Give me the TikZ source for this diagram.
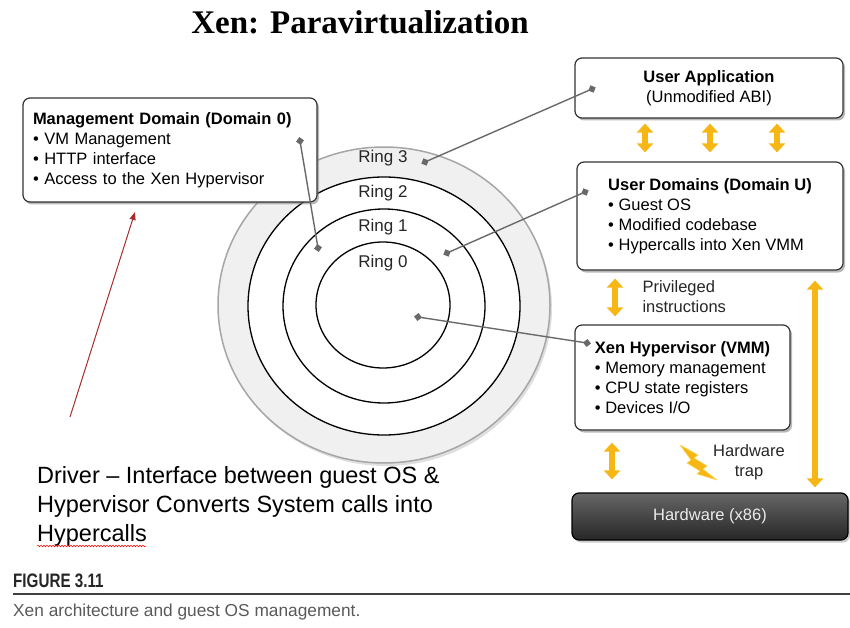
\documentclass[tikz,border=0pt]{standalone}
\usepackage{fontspec}
\setmainfont{Liberation Sans}
\newfontfamily\headfont{Liberation Serif}
\newfontfamily\figfont[FakeStretch=0.78]{Liberation Sans}
\usetikzlibrary{arrows.meta,positioning,shadows,decorations.pathmorphing}
\definecolor{gold}{RGB}{246,182,20}
\definecolor{goldlight}{RGB}{252,214,90}
\definecolor{linkgray}{RGB}{105,105,105}
\definecolor{bandgray}{RGB}{240,240,240}
\definecolor{drvred}{RGB}{165,45,45}
\newcommand\boxfont{\fontsize{16.5}{20}\selectfont}

\begin{document}
\begin{tikzpicture}[x=1pt,y=-1pt,
    box/.style={rectangle, draw=black!80, line width=1.2pt, rounded corners=7pt, fill=white, align=left, font=\boxfont, drop shadow={shadow xshift=2pt,shadow yshift=-2.5pt,opacity=.55}},
    ringlbl/.style={font=\fontsize{17}{19}\selectfont, text=black!85},
    link/.style={draw=linkgray, line width=1.4pt, shorten >=-4pt, shorten <=-4pt, {Turned Square[length=8pt,width=8pt]}-{Turned Square[length=8pt,width=8pt]}},
    goldarr/.style={draw=gold, line width=6.5pt, {Triangle[length=9pt,width=16pt]}-{Triangle[length=9pt,width=16pt]}},
    note/.style={font=\boxfont, text=black!85}]
  \useasboundingbox (0,0) rectangle (850,628);

  % title
  \node[font=\headfont\bfseries\fontsize{33}{36}\selectfont] (title) at (360,22) {Xen: Paravirtualization};

  % protection rings
  \draw[fill=bandgray, draw=black!35, line width=1.5pt, drop shadow={shadow xshift=2pt,shadow yshift=-3pt,opacity=.25}] (384,305) ellipse [x radius=166pt, y radius=158pt];
  \draw[fill=white, line width=1.3pt] (384,306) ellipse [x radius=136pt, y radius=129pt];
  \draw[line width=1.3pt] (384,306) ellipse [x radius=101pt, y radius=97pt];
  \draw[line width=1.3pt] (383,305) ellipse [x radius=67pt, y radius=63pt];
  \node[ringlbl] (r3) at (383,158) {Ring 3};
  \node[ringlbl] (r2) at (383,193) {Ring 2};
  \node[ringlbl] (r1) at (383,227) {Ring 1};
  \node[ringlbl] (r0) at (383,263) {Ring 0};

  % boxes
  \node[box, text width=274pt, inner xsep=10pt, minimum height=104pt] (mgmt) at (170,150)
    {\textbf{Management Domain (Domain 0)}\\• VM Management\\• HTTP interface\\• Access to the Xen Hypervisor};
  \node[box, align=center, minimum width=268pt, minimum height=60pt] (ua) at (709,88)
    {\textbf{User Application}\\(Unmodified ABI)};
  \node[box, minimum width=266pt, minimum height=108pt] (ud) at (710,216)
    {\textbf{User Domains (Domain U)}\\• Guest OS\\• Modified codebase\\• Hypercalls into Xen VMM};
  \node[box, minimum width=215pt, minimum height=105pt] (xen) at (682.5,377.5)
    {\textbf{Xen Hypervisor (VMM)}\\• Memory management\\• CPU state registers\\• Devices I/O};
  \node[rectangle, draw=black, line width=1.2pt, rounded corners=7pt, top color=black!60, bottom color=black!85, text=black!8, font=\boxfont, minimum width=276pt, minimum height=47pt, drop shadow={shadow xshift=2pt,shadow yshift=-2.5pt,opacity=.4}] (hw) at (710,516.5) {Hardware (x86)};

  % connectors from the rings
  \coordinate (mgdot) at (300,141);
  \coordinate (r1dot) at (318,248);
  \coordinate (r3dot) at (425,162);
  \coordinate (uadot) at (592,89);
  \coordinate (r2dot) at (447,253);
  \coordinate (uddot) at (585,192);
  \coordinate (r0dot) at (418,317);
  \coordinate (xendot) at (587,343);
  \draw[link] (mgdot) -- (r1dot);
  \draw[link] (r3dot) -- (uadot);
  \draw[link] (r2dot) -- (uddot);
  \draw[link] (r0dot) -- (xendot);

  % yellow arrows
  \foreach \dx in {-64,1,68}
    \draw[goldarr, shorten <=5pt, shorten >=9pt] ([xshift=\dx pt]ua.south) -- ([xshift=\dx pt-1pt]ud.north);
  \draw[goldarr, shorten <=8pt, shorten >=8pt] ([xshift=-95pt]ud.south) -- ([xshift=-67.5pt]xen.north);
  \draw[goldarr, shorten <=10pt, shorten >=5pt] ([xshift=105pt]ud.south) -- ([xshift=105pt]hw.north);
  \draw[goldarr, shorten <=12pt, shorten >=13pt] ([xshift=-70.5pt]xen.south) -- ([xshift=-98pt]hw.north);
  \node[note, align=left, anchor=west] (priv) at (639,297) {Privileged\\instructions};
  \node[note, align=center] (trap) at (749,462) {Hardware\\trap};

  % lightning bolt
  \filldraw[fill=gold, draw=goldlight, line width=.6pt, line join=round]
    (680,445) -- (698,455) -- (694,458) -- (707,466) -- (703,469) -- (717,480)
    -- (697,474) -- (700,471) -- (687,463) -- (691,460) -- cycle;

  % driver note
  \coordinate (drvfoot) at (70,417);
  \coordinate (drvtip) at (135,212);
  \draw[drvred, line width=1pt, -{Triangle[length=8pt,width=6pt]}] (drvfoot) -- (drvtip);
  \node[anchor=north west, inner sep=0pt, align=left, font=\fontsize{23.5}{29}\selectfont] (drv) at (37,466)
    {Driver – Interface between guest OS \&\\Hypervisor Converts System calls into\\Hypercalls};
  \draw[red, line width=.5pt, decorate, decoration={snake, amplitude=.8pt, segment length=3pt}] (37,546) -- (146,546);

  % figure caption
  \node[anchor=base west, inner sep=0pt, font=\figfont\bfseries\fontsize{19.5}{22}\selectfont, text=black!85] (fig) at (13,587) {FIGURE 3.11};
  \draw[line width=2pt, black!75] (13,594) -- (850,594);
  \node[anchor=base west, inner sep=0pt, font=\fontsize{17.3}{20}\selectfont, text=black!65] (cap) at (13,616) {Xen architecture and guest OS management.};
\end{tikzpicture}
\end{document}
